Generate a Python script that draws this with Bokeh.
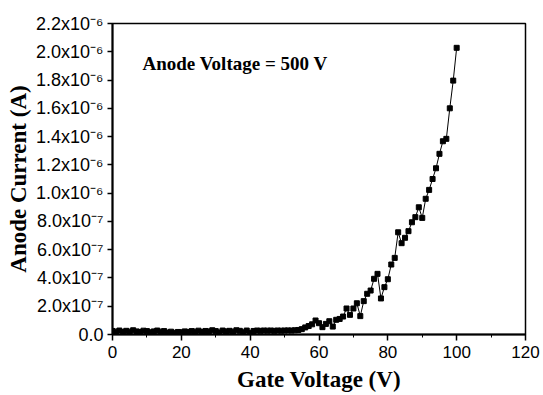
from bokeh.plotting import figure
from bokeh.models import Range1d, FixedTicker, CustomJSTickFormatter, Label
from bokeh.embed import file_html
from bokeh.resources import INLINE

# Gate voltage (V)
gate_voltage = list(range(0, 101))
# Anode current in units of 1e-6 A
anode_current_uA = [
    0.025, 0.020, 0.028, 0.018, 0.026, 0.020, 0.030, 0.022, 0.018, 0.027,
    0.024, 0.016, 0.022, 0.028, 0.020, 0.024, 0.014, 0.020, 0.012, 0.018,
    0.016, 0.022, 0.018, 0.024, 0.020, 0.027, 0.018, 0.025, 0.022, 0.030,
    0.024, 0.015, 0.028, 0.022, 0.026, 0.020, 0.030, 0.026, 0.016, 0.028,
    0.012, 0.025, 0.028, 0.026, 0.028, 0.027, 0.028, 0.026, 0.028, 0.027,
    0.028, 0.029, 0.028, 0.030, 0.032, 0.038, 0.050, 0.060, 0.072, 0.099,
    0.080, 0.052, 0.075, 0.094, 0.056, 0.104, 0.110, 0.127, 0.184, 0.139,
    0.184, 0.221, 0.130, 0.236, 0.288, 0.311, 0.394, 0.429, 0.255, 0.335,
    0.391, 0.495, 0.542, 0.723, 0.646, 0.684, 0.731, 0.794, 0.830, 0.900,
    0.825, 0.960, 1.023, 1.100, 1.176, 1.278, 1.367, 1.384, 1.600, 1.796,
    2.028,
]
anode_current = [v * 1e-6 for v in anode_current_uA]

x_ticks = [0, 20, 40, 60, 80, 100, 120]
x_minor_ticks = [10, 30, 50, 70, 90, 110]
y_ticks = [0.0, 2e-7, 4e-7, 6e-7, 8e-7, 1.0e-6, 1.2e-6, 1.4e-6, 1.6e-6,
           1.8e-6, 2.0e-6, 2.2e-6]

annotation = "Anode Voltage = 500 V"
x_label = "Gate Voltage (V)"
y_label = "Anode Current (A)"

p = figure(frame_width=413, frame_height=311, output_backend="svg",
           toolbar_location=None,
           x_range=Range1d(0, 120), y_range=Range1d(0, 2.2e-6),
           min_border_left=112, min_border_right=18, min_border_top=23,
           min_border_bottom=61)

p.xgrid.visible = False
p.ygrid.visible = False
p.outline_line_color = "black"
p.outline_line_width = 1.5
p.background_fill_color = "white"
p.border_fill_color = "white"

p.line(gate_voltage, anode_current, line_color="black", line_width=1)
p.scatter(gate_voltage, anode_current, marker="square", size=5,
          fill_color="black", line_color="black")

# x axis
xa = p.xaxis[0]
xa.ticker = FixedTicker(ticks=x_ticks, minor_ticks=x_minor_ticks)
xa.axis_line_width = 2
xa.major_tick_line_width = 1.5
xa.major_tick_out = 6
xa.major_tick_in = 0
xa.minor_tick_out = 3
xa.minor_tick_in = 0
xa.major_label_text_font = "Liberation Sans"
xa.major_label_text_font_size = "17px"
xa.major_label_text_color = "black"
xa.major_label_standoff = 5
xa.axis_label = x_label
xa.axis_label_text_font = "Liberation Serif"
xa.axis_label_text_font_style = "bold"
xa.axis_label_text_font_size = "23px"
xa.axis_label_text_color = "black"
xa.axis_label_standoff = 6

# y axis
ya = p.yaxis[0]
ya.ticker = FixedTicker(ticks=y_ticks, minor_ticks=[])
ya.axis_line_width = 2
ya.major_tick_line_width = 1.5
ya.major_tick_out = 5
ya.major_tick_in = 0
ya.minor_tick_line_color = None
ya.major_label_text_font = "Liberation Sans"
ya.major_label_text_font_size = "18px"
ya.major_label_text_color = "black"
ya.major_label_standoff = 4
ya.formatter = CustomJSTickFormatter(code="""
    if (Math.abs(tick) < 1e-15) return "0.0";
    const e = Math.floor(Math.log10(Math.abs(tick)) + 1e-9);
    const m = tick / Math.pow(10, e);
    const sup = {"-": "\u207b", "0": "\u2070", "1": "\u00b9", "2": "\u00b2",
                 "3": "\u00b3", "4": "\u2074", "5": "\u2075", "6": "\u2076",
                 "7": "\u2077", "8": "\u2078", "9": "\u2079"};
    const es = String(e).split("").map(c => sup[c]).join("");
    return m.toFixed(1) + "x10" + es;
""")
ya.axis_label = y_label
ya.axis_label_text_font = "Liberation Serif"
ya.axis_label_text_font_style = "bold"
ya.axis_label_text_font_size = "23px"
ya.axis_label_text_color = "black"
ya.axis_label_standoff = 2

p.add_layout(Label(x=8.7, y=1.917e-6, text=annotation,
                   text_font="Liberation Serif", text_font_style="bold",
                   text_font_size="19px", text_color="black",
                   text_baseline="alphabetic", text_align="left"))

open("out.html", "w").write(file_html(p, INLINE))
